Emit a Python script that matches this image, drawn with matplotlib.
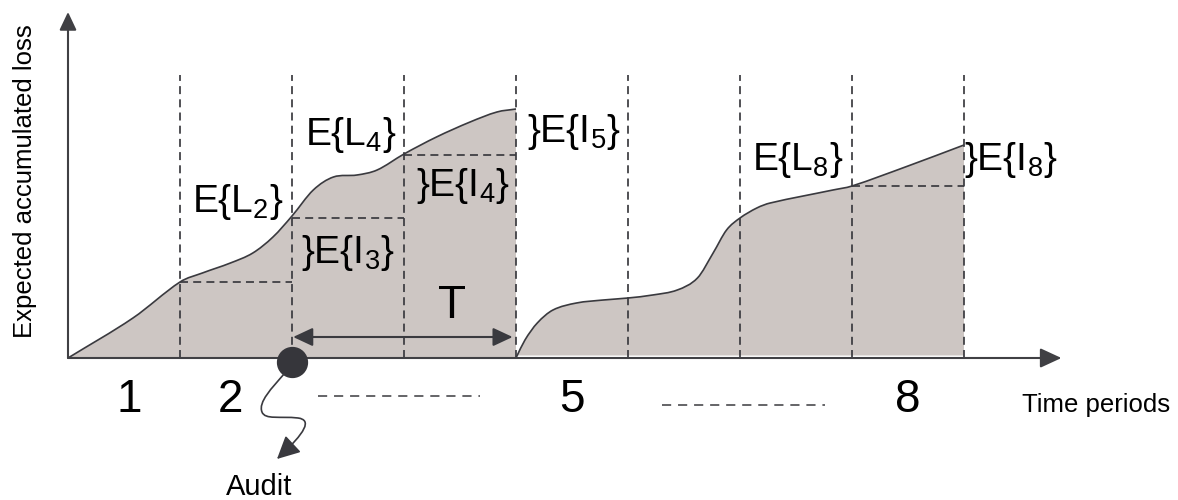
import numpy as np
import matplotlib.pyplot as plt
from matplotlib.path import Path
from matplotlib.patches import PathPatch, FancyArrowPatch

plt.rcParams['font.family'] = ['Liberation Sans', 'DejaVu Sans']
plt.rcParams['mathtext.fontset'] = 'custom'
plt.rcParams['mathtext.rm'] = 'Liberation Sans'
plt.rcParams['mathtext.it'] = 'Liberation Sans'

# period boundaries (time axis in periods)
periods = [1, 2, 3, 4, 5, 6, 7, 8]

# expected accumulated loss before the audit (periods 1-4)
t_before = [0.0, 0.58, 1.0, 1.2, 1.45, 1.65, 1.83, 2.0, 2.19, 2.37, 2.58, 2.76,
            3.0, 3.29, 3.59, 3.83, 4.0]
loss_before = [0.0, 0.40, 0.76, 0.85, 0.95, 1.05, 1.21, 1.42, 1.68, 1.81, 1.83, 1.88,
               2.04, 2.21, 2.36, 2.46, 2.49]

# expected accumulated loss after the audit (periods 5-8)
t_after = [4.0, 4.08, 4.19, 4.33, 4.54, 4.78, 5.0, 5.22, 5.44, 5.62, 5.76, 5.88,
           6.0, 6.15, 6.27, 6.83, 7.0, 7.5, 8.0]
loss_after = [0.0, 0.18, 0.35, 0.48, 0.55, 0.58, 0.60, 0.63, 0.68, 0.80, 1.05, 1.28,
              1.40, 1.50, 1.55, 1.68, 1.72, 1.92, 2.13]

# dashed step levels: (start period, end period, loss)
steps = [(1, 2, 0.76), (2, 3, 1.40), (3, 4, 2.03), (7, 8, 1.72)]

# period numbers shown under the axis
period_labels = ['1', '2', '5', '8']
period_label_t = [0.55, 1.45, 4.5, 7.5]

# loss labels
loss_labels = [r'$\mathrm{E\{L_2\}}$', r'$\mathrm{E\{L_4\}}$', r'$\mathrm{\}E\{I_3\}}$',
               r'$\mathrm{\}E\{I_4\}}$', r'$\mathrm{\}E\{I_5\}}$', r'$\mathrm{E\{L_8\}}$',
               r'$\mathrm{\}E\{I_8\}}$']
loss_label_t = [1.107, 2.12, 2.08, 3.11, 4.10, 6.11, 8.0]
loss_label_y = [1.46, 2.13, 0.95, 1.62, 2.16, 1.88, 1.88]

audit_t = 2.0

# audit pointer (cubic bezier: start, then 3 points per segment)
squiggle = [(1.929, -0.16),
            (1.821, -0.30), (1.696, -0.44), (1.732, -0.54),
            (1.759, -0.62), (1.893, -0.58), (2.054, -0.60),
            (2.179, -0.62), (2.125, -0.74), (1.866, -1.01)]

fill_col = '#cdc6c3'
line_col = '#3a3a3f'


def smooth_path(xs, ys):
    # hermite curve in x, written as cubic bezier segments
    xs = np.asarray(xs, float)
    ys = np.asarray(ys, float)
    m = np.empty_like(ys)
    m[1:-1] = (ys[2:] - ys[:-2]) / (xs[2:] - xs[:-2])
    m[0] = (ys[1] - ys[0]) / (xs[1] - xs[0])
    m[-1] = (ys[-1] - ys[-2]) / (xs[-1] - xs[-2])
    verts = [(xs[0], ys[0])]
    codes = [Path.MOVETO]
    for i in range(len(xs) - 1):
        h = (xs[i + 1] - xs[i]) / 3
        verts += [(xs[i] + h, ys[i] + m[i] * h),
                  (xs[i + 1] - h, ys[i + 1] - m[i + 1] * h),
                  (xs[i + 1], ys[i + 1])]
        codes += [Path.CURVE4] * 3
    return verts, codes


def draw_region(ax, xs, ys, base=0.0):
    verts, codes = smooth_path(xs, ys)
    fill_verts = verts + [(xs[-1], base), (xs[0], base), (xs[0], base)]
    fill_codes = codes + [Path.LINETO, Path.LINETO, Path.CLOSEPOLY]
    ax.add_patch(PathPatch(Path(fill_verts, fill_codes), facecolor=fill_col,
                           edgecolor='none', zorder=1))
    ax.add_patch(PathPatch(Path(verts, codes), facecolor='none',
                           edgecolor=line_col, lw=1.2, zorder=3))


fig = plt.figure(figsize=(11.78, 5.0), dpi=100)
ax = fig.add_axes([0, 0, 1, 1])
ax.set_xlim(-68 / 112, (1178 - 68) / 112)
ax.set_ylim(-1.42, 3.58)
ax.axis('off')

draw_region(ax, t_before, loss_before)
draw_region(ax, t_after, loss_after, base=0.025)

ax.vlines(periods, 0, 2.83, colors=line_col, lw=1.25,
          linestyles=[(0, (4.6, 3.0))], zorder=2)
for t0, t1, y in steps:
    ax.plot([t0, t1], [y, y], color=line_col, lw=1.25, ls=(0, (4.6, 3.0)), zorder=2)

# axes with arrow heads
ax.add_patch(FancyArrowPatch((0, 0), (8.87, 0), arrowstyle='-|>,head_length=0.65,head_width=0.3',
                             mutation_scale=20, color='#404044', lw=1.5,
                             shrinkA=0, shrinkB=0, zorder=4))
ax.add_patch(FancyArrowPatch((0, 0), (0, 3.46), arrowstyle='-|>,head_length=0.55,head_width=0.26',
                             mutation_scale=20, color='#404044', lw=1.5,
                             shrinkA=0, shrinkB=0, zorder=4))

# period T between audit and next period
ax.add_patch(FancyArrowPatch((2.01, 0.21), (3.97, 0.21),
                             arrowstyle='<|-|>,head_length=0.6,head_width=0.28',
                             mutation_scale=20, color=line_col, lw=1.5,
                             shrinkA=0, shrinkB=0, zorder=4))
ax.text(3.43, 0.40, 'T', fontsize=33, ha='center', va='baseline', color='black')

# audit marker and pointer
ax.plot([audit_t], [-0.04], 'o', ms=21.5, color='#36363b', zorder=5)
sq_codes = [Path.MOVETO] + [Path.CURVE4] * 9
ax.add_patch(FancyArrowPatch(path=Path(squiggle, sq_codes),
                             arrowstyle='-|>,head_length=0.7,head_width=0.35',
                             mutation_scale=20, color=line_col, lw=1.2, zorder=5))
ax.text(1.71, -1.37, 'Audit', fontsize=21, ha='center', va='baseline')

# dotted gaps between period numbers
ax.plot([2.23, 3.68], [-0.38, -0.38], color=line_col, lw=1.1, ls=(0, (6, 4.5)))
ax.plot([5.30, 6.76], [-0.47, -0.47], color=line_col, lw=1.1, ls=(0, (6, 4.5)))

for lab, t in zip(period_labels, period_label_t):
    ax.text(t, -0.54, lab, fontsize=33, ha='center', va='baseline')

for lab, t, y in zip(loss_labels, loss_label_t, loss_label_y):
    ax.text(t, y, lab, fontsize=28, ha='left', va='baseline', zorder=6)

ax.text(8.518, -0.54, 'Time periods', fontsize=18.5, ha='left', va='baseline')
ax.text(-0.384, 1.77, 'Expected accumulated loss', fontsize=18.5, rotation=90,
        ha='center', va='center')

fig.savefig('out.png', dpi=100)
